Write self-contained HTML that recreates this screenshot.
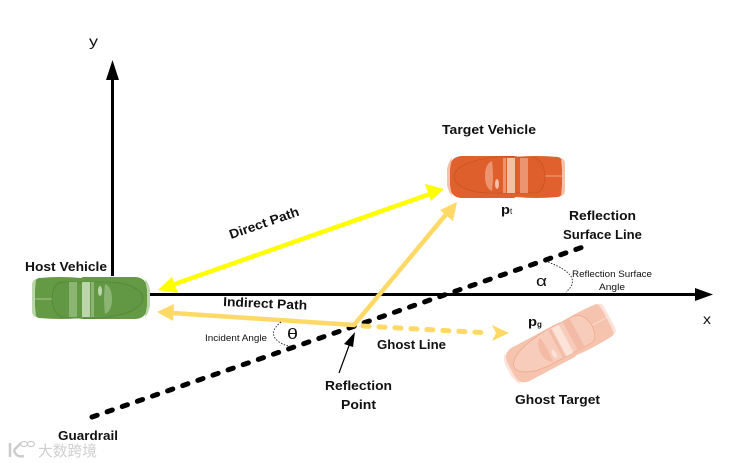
<!DOCTYPE html>
<html><head><meta charset="utf-8">
<style>
html,body{margin:0;padding:0;background:#fff;width:731px;height:463px;overflow:hidden}
svg{display:block}
text{font-family:"Liberation Sans","Noto Sans CJK SC",sans-serif;fill:#111}
.b{font-weight:bold;font-size:13px}
.s{font-size:9px}
</style></head>
<body>
<svg width="731" height="463" viewBox="0 0 731 463" xmlns="http://www.w3.org/2000/svg">
<defs>
<g id="car">
  <path d="M-52,-20 Q-30,-22 -10,-20 L-8,-21 H45 Q54,-20 56,-12 L58,-4 V4 L56,12 Q54,20 45,21 H-8 L-10,20 Q-30,22 -52,20 Q-57,19 -57,12 V-12 Q-57,-19 -52,-20Z" style="fill:var(--body)"/>
  <path d="M-59,-13 Q-59,-18 -55,-19 L-56,-8 V8 L-55,19 Q-59,18 -59,13Z" style="fill:var(--light)"/>
  <path d="M54,-19 Q57,-17 59,-8 L59,8 Q57,17 54,19 L56,8 V-8Z" style="fill:var(--light)"/>
  <path d="M-39,1 H-57" style="stroke:var(--light);stroke-width:0.800;fill:none"/>
  <path d="M-39,1 Q-38,-15 -30,-16 H19 Q35,-15 42,-11 Q52,-6 52,0 Q52,6 44,11 Q35,17 10,20 Q-5,21 -12,20 H-27 Q-38,17 -39,1Z" style="fill:var(--dark);stroke:var(--line);stroke-width:0.800"/>
  <rect x="-22" y="-16" width="8" height="35" style="fill:var(--mid)"/>
  <rect x="-9" y="-16" width="8" height="35" style="fill:var(--light)"/>
  <rect x="0" y="-16" width="3" height="35" style="fill:var(--mid)"/>
  <path d="M14,-14 Q21,-11 21,1 Q21,13 14,16 Q12,1 14,-14Z" style="fill:var(--mid)"/>
  <ellipse cx="9" cy="-7" rx="2" ry="5" style="fill:var(--light)"/>
</g>
</defs>

<!-- Axes -->
<path d="M112.500,276V72" stroke="#000" stroke-width="3" fill="none"/>
<path d="M112.500,60L106,80H119Z" fill="#000"/>
<path d="M150,294.500H698" stroke="#000" stroke-width="3" fill="none"/>
<path d="M713,294.500L695,288V301Z" fill="#000"/>

<!-- Guardrail -->
<path d="M92,417L583,247" stroke="#000" stroke-width="5" stroke-dasharray="5.500 10.500" stroke-linecap="round" fill="none"/>

<!-- Cars -->
<use href="#car" transform="translate(91,298)" style="--body:#659a45;--dark:#629744;--mid:#8ab573;--light:#bcd6ac;--line:#52863a"/>
<use href="#car" transform="translate(506,177) rotate(180)" style="--body:#e0612e;--dark:#df5f2c;--mid:#ec9470;--light:#f5c0a8;--line:#c9531f"/>
<use href="#car" transform="translate(559,344) rotate(152) scale(0.97,0.9)" style="--body:#f6c3ae;--dark:#f8ccba;--mid:#f3bba5;--light:#fbe3da;--line:#eca98e"/>

<!-- Direct path -->
<path d="M172,285L430,194" stroke="#ffff00" stroke-width="4.500" fill="none"/>
<path d="M158,290L172,277L178,293Z" fill="#ffff00"/>
<path d="M444,189L425,184L431,201Z" fill="#ffff00"/>

<!-- Indirect path -->
<path d="M172,313L354,325L448,212" stroke="#ffd966" stroke-width="4.500" fill="none"/>
<path d="M157,312L174,304L173,321Z" fill="#ffd966"/>
<path d="M457,202L440,210L453,221Z" fill="#ffd966"/>

<!-- Ghost line -->
<path d="M363,326L490,333" stroke="#ffd966" stroke-width="5" stroke-dasharray="6 10" stroke-linecap="round" fill="none"/>
<path d="M509,333L492,325L496,333L492,341Z" fill="#ffd966"/>

<!-- Reflection pointer -->
<path d="M339,373L350,343" stroke="#000" stroke-width="1.200" fill="none"/>
<path d="M355,332L344,344L353,347Z" fill="#000"/>

<!-- Dotted arcs -->
<path d="M281,322Q267,333 279,342Q285,346 291,346" stroke="#222" stroke-width="0.900" stroke-dasharray="1.500 1.500" fill="none"/>
<path d="M548,262Q585,276 566,292" stroke="#222" stroke-width="0.900" stroke-dasharray="1.500 1.500" fill="none"/>

<!-- Labels -->
<text x="89" y="46" font-size="14" textLength="9" lengthAdjust="spacingAndGlyphs">y</text>
<text x="703" y="324" font-size="14" textLength="8" lengthAdjust="spacingAndGlyphs">x</text>
<text class="b" x="442" y="134" textLength="94" lengthAdjust="spacingAndGlyphs">Target Vehicle</text>
<text class="b" x="25" y="271" textLength="82" lengthAdjust="spacingAndGlyphs">Host Vehicle</text>
<text class="b" transform="translate(231,239) rotate(-19)" textLength="73" lengthAdjust="spacingAndGlyphs">Direct Path</text>
<text class="b" transform="translate(223,306) rotate(2.500)" textLength="84" lengthAdjust="spacingAndGlyphs">Indirect Path</text>
<text class="b" x="569" y="220" textLength="67" lengthAdjust="spacingAndGlyphs">Reflection</text>
<text class="b" x="563" y="239" textLength="79" lengthAdjust="spacingAndGlyphs">Surface Line</text>
<text x="536" y="286" font-size="15" textLength="11" lengthAdjust="spacingAndGlyphs">α</text>
<text class="s" x="572" y="277" textLength="80" lengthAdjust="spacingAndGlyphs">Reflection Surface</text>
<text class="s" x="599" y="290" textLength="26" lengthAdjust="spacingAndGlyphs">Angle</text>
<text class="b" x="501" y="214" textLength="9" lengthAdjust="spacingAndGlyphs">p</text>
<text x="510" y="214" font-size="8">t</text>
<text class="b" x="528" y="326" textLength="9" lengthAdjust="spacingAndGlyphs">p</text>
<text x="537" y="327" font-size="8" font-weight="bold">g</text>
<text class="b" x="377" y="349" textLength="69" lengthAdjust="spacingAndGlyphs">Ghost Line</text>
<text class="b" x="325" y="390" textLength="67" lengthAdjust="spacingAndGlyphs">Reflection</text>
<text class="b" x="341" y="409" textLength="35" lengthAdjust="spacingAndGlyphs">Point</text>
<text class="b" x="515" y="404" textLength="85" lengthAdjust="spacingAndGlyphs">Ghost Target</text>
<text class="b" x="58" y="440" textLength="60" lengthAdjust="spacingAndGlyphs">Guardrail</text>
<text class="s" x="205" y="341" textLength="62" lengthAdjust="spacingAndGlyphs">Incident Angle</text>
<text x="287" y="339" font-size="15" textLength="11" lengthAdjust="spacingAndGlyphs">θ</text>

<!-- Watermark -->
<path d="M10,443V457M14,450L21,443M14,450Q16,458 24,456" stroke="#ccc" stroke-width="2.500" fill="none"/>
<ellipse cx="24" cy="444" rx="3.500" ry="2.500" fill="none" stroke="#ccc" stroke-width="1.200"/>
<ellipse cx="31" cy="444" rx="3.500" ry="2.500" fill="none" stroke="#ccc" stroke-width="1.200"/>
<text x="38" y="456" font-size="15" style="fill:#cfcfcf" textLength="59" lengthAdjust="spacingAndGlyphs">大数跨境</text>
</svg>
</body></html>
